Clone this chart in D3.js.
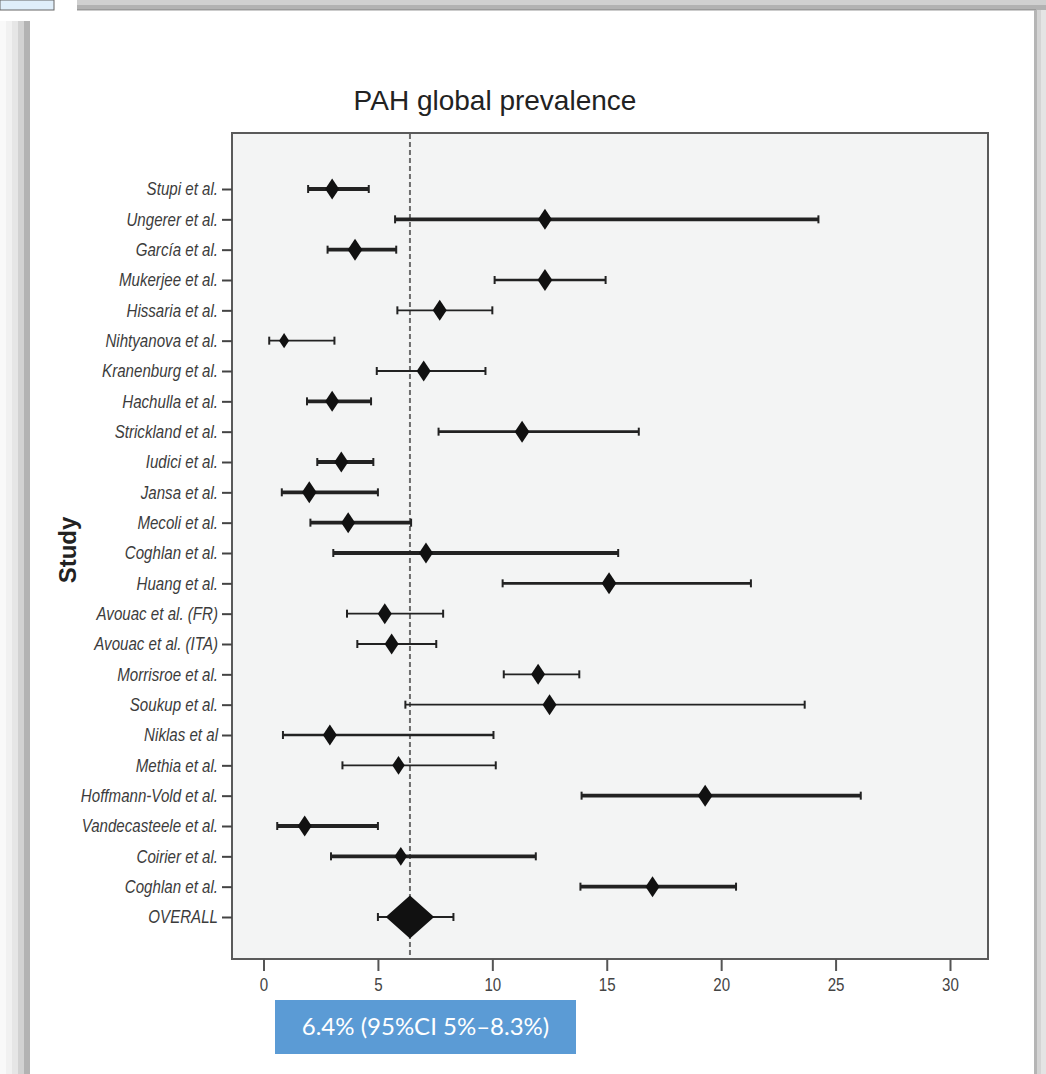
<!DOCTYPE html>
<html>
<head>
<meta charset="utf-8">
<script src="https://cdn.jsdelivr.net/npm/d3@7"></script>
<style>
    body { margin: 0; background: #fff; }
    svg { display: block; }
    .row-label { font-family: "Liberation Sans", Arial, sans-serif; font-style: italic; font-size: 18px; fill: #3c3c3c; }
    .x-label { font-family: "Liberation Sans", Arial, sans-serif; font-size: 18px; fill: #444; }
    .title { font-family: "Liberation Sans", Arial, sans-serif; font-size: 28px; fill: #222; }
    .axis-title { font-family: "Liberation Sans", Arial, sans-serif; font-size: 24px; font-weight: bold; fill: #222; }
    .note { font-family: Lato, "Open Sans", sans-serif; font-size: 24px; fill: #fff; }
</style>
</head>
<body>
<svg id="chart" width="1046" height="1074"></svg>
<script>
// study names, top to bottom
const studies = ["Stupi et al.", "Ungerer et al.", "García et al.", "Mukerjee et al.", "Hissaria et al.",
    "Nihtyanova et al.", "Kranenburg et al.", "Hachulla et al.", "Strickland et al.", "Iudici et al.",
    "Jansa et al.", "Mecoli et al.", "Coghlan et al.", "Huang et al.", "Avouac et al. (FR)",
    "Avouac et al. (ITA)", "Morrisroe et al.", "Soukup et al.", "Niklas et al", "Methia et al.",
    "Hoffmann-Vold et al.", "Vandecasteele et al.", "Coirier et al.", "Coghlan et al.", "OVERALL"];

// prevalence (%) with 95% CI
const estimates = [3.0, 12.3, 4.0, 12.3, 7.7, 0.9, 7.0, 3.0, 11.3, 3.4, 2.0, 3.7, 7.1, 15.1, 5.3,
    5.6, 12.0, 12.5, 2.9, 5.9, 19.3, 1.8, 6.0, 17.0, 6.4];
const lowerCI = [1.95, 5.75, 2.8, 10.1, 5.85, 0.25, 4.95, 1.9, 7.65, 2.35, 0.8, 2.05, 3.05, 10.45, 3.65,
    4.1, 10.5, 6.2, 0.85, 3.45, 13.9, 0.6, 2.95, 13.85, 5.0];
const upperCI = [4.6, 24.25, 5.8, 14.95, 10.0, 3.1, 9.7, 4.7, 16.4, 4.8, 5.0, 6.45, 15.5, 21.3, 7.85,
    7.55, 13.8, 23.65, 10.05, 10.15, 26.1, 5.0, 11.9, 20.65, 8.3];

// line weight class (1 light .. 3 heavy) and relative marker weight
const lineWeight = [3, 3, 3, 2, 1, 1, 1, 3, 2, 3, 3, 3, 3, 2, 1, 1, 1, 1, 2, 1, 3, 3, 3, 3, 1];
const pointWeight = [1, 1, 1.05, 1.05, 1, 0.72, 1, 1, 1.05, 1, 1.05, 1, 1, 1.05, 1,
    1, 1, 1, 1, 0.9, 1.05, 1, 0.9, 1, 2.7];

const xTicks = [0, 5, 10, 15, 20, 25, 30];
const pooled = 6.4;
const titleText = "PAH global prevalence";
const yTitle = "Study";
const noteText = "6.4% (95%CI 5%–8.3%)";

const rows = studies.map((s, i) => ({
    name: s, est: estimates[i], lo: lowerCI[i], hi: upperCI[i],
    lw: lineWeight[i], pw: pointWeight[i], idx: i
}));

// the original labels use a condensed face, so squeeze the regular one
const squeeze = 0.84;

const svg = d3.select("#chart");

// ---- window frame around the screenshot ----
const frame = svg.append("g");
frame.append("rect").attr("x", 0).attr("y", 0).attr("width", 54).attr("height", 10)
    .attr("fill", "#dfeefa").attr("stroke", "#666").attr("stroke-width", 1);
frame.append("rect").attr("x", 77).attr("y", 0).attr("width", 969).attr("height", 5).attr("fill", "#d0d0d0");
frame.append("rect").attr("x", 77).attr("y", 5).attr("width", 969).attr("height", 5).attr("fill", "#b2b2b2");
frame.append("rect").attr("x", 77).attr("y", 9).attr("width", 959).attr("height", 1.5).attr("fill", "#9a9a9a");
[["#f9f9f9", 0], ["#f1f1f1", 6], ["#e6e6e6", 12], ["#d2d2d2", 18], ["#b3b3b3", 24]].forEach(([c, x]) => {
    frame.append("rect").attr("x", x).attr("y", 21).attr("width", 6).attr("height", 1053).attr("fill", c);
});
[["#b5b5b5", 1034, 3], ["#d4d4d4", 1037, 4], ["#e4e4e4", 1041, 5]].forEach(([c, x, w]) => {
    frame.append("rect").attr("x", x).attr("y", 10).attr("width", w).attr("height", 1064).attr("fill", c);
});

// ---- plot ----
const box = {left: 232, right: 988, top: 133, bottom: 959};

const xScale = d3.scaleLinear()
    .domain([0, 30])
    .range([263.5, 950]);

const yScale = d3.scalePoint()
    .domain(rows.map(d => d.idx))
    .range([189, 917]);

const strokeW = d3.scaleOrdinal().domain([1, 2, 3]).range([1.9, 2.7, 3.8]);
const halfW = d3.scaleLinear().domain([0, 1]).range([0, 7]);
const halfH = d3.scaleLinear().domain([0, 1]).range([0, 10.5]);

svg.append("rect")
    .attr("x", box.left).attr("y", box.top)
    .attr("width", box.right - box.left).attr("height", box.bottom - box.top)
    .attr("fill", "#f3f4f4")
    .attr("stroke", "#5a5a5a")
    .attr("stroke-width", 2);

// pooled estimate reference line
svg.append("line")
    .attr("x1", xScale(pooled)).attr("x2", xScale(pooled))
    .attr("y1", box.top + 1).attr("y2", box.bottom - 1)
    .attr("stroke", "#6e6e6e")
    .attr("stroke-width", 2)
    .attr("stroke-dasharray", "5,3");

// x axis
const xAxis = svg.append("g")
    .attr("transform", `translate(0,${box.bottom})`)
    .call(d3.axisBottom(xScale).tickValues(xTicks).tickSize(12).tickPadding(7).tickFormat(d3.format("d")));
xAxis.select(".domain").remove();
xAxis.selectAll(".tick line").attr("stroke", "#555").attr("stroke-width", 2);
xAxis.selectAll(".tick text")
    .attr("class", "x-label")
    .attr("fill", null)
    .attr("transform", `scale(${squeeze},1)`);
xAxis.attr("font-family", null).attr("font-size", null);

// y axis
const yAxis = svg.append("g")
    .attr("transform", `translate(${box.left},0)`)
    .call(d3.axisLeft(yScale).tickSize(10).tickPadding(4).tickFormat(i => studies[i]));
yAxis.select(".domain").remove();
yAxis.selectAll(".tick line").attr("stroke", "#444").attr("stroke-width", 2);
yAxis.selectAll(".tick text")
    .attr("class", "row-label")
    .attr("fill", null)
    .attr("x", -14 / squeeze)
    .attr("transform", `scale(${squeeze},1)`);
yAxis.attr("font-family", null).attr("font-size", null);

// confidence intervals
const ci = svg.append("g").selectAll("g")
    .data(rows)
    .enter()
    .append("g");

ci.append("line")
    .attr("x1", d => xScale(d.lo)).attr("x2", d => xScale(d.hi))
    .attr("y1", d => yScale(d.idx)).attr("y2", d => yScale(d.idx))
    .attr("stroke", "#222")
    .attr("stroke-width", d => strokeW(d.lw));

ci.selectAll(".cap")
    .data(d => [{x: d.lo, y: d.idx}, {x: d.hi, y: d.idx}])
    .enter()
    .append("line")
    .attr("class", "cap")
    .attr("x1", d => xScale(d.x)).attr("x2", d => xScale(d.x))
    .attr("y1", d => yScale(d.y) - 4).attr("y2", d => yScale(d.y) + 4)
    .attr("stroke", "#222")
    .attr("stroke-width", 2);

// diamonds
ci.append("path")
    .attr("d", d => {
        const cx = xScale(d.est), cy = yScale(d.idx);
        const w = halfW(d.pw) * (d.pw > 2 ? 1.28 : 1), h = halfH(d.pw) * (d.pw > 2 ? 0.76 : 1);
        return `M${cx},${cy - h}L${cx + w},${cy}L${cx},${cy + h}L${cx - w},${cy}Z`;
    })
    .attr("fill", "#111");

// titles
svg.append("text")
    .attr("class", "title")
    .attr("x", 495)
    .attr("y", 110)
    .attr("text-anchor", "middle")
    .text(titleText);

svg.append("text")
    .attr("class", "axis-title")
    .attr("transform", "translate(76,550) rotate(-90)")
    .attr("text-anchor", "middle")
    .text(yTitle);

// summary box
svg.append("rect")
    .attr("x", 275).attr("y", 1000)
    .attr("width", 301).attr("height", 54)
    .attr("fill", "#5b9bd5");

svg.append("text")
    .attr("class", "note")
    .attr("x", 425.5)
    .attr("y", 1027)
    .attr("dy", "0.35em")
    .attr("text-anchor", "middle")
    .text(noteText);
</script>
</body>
</html>
